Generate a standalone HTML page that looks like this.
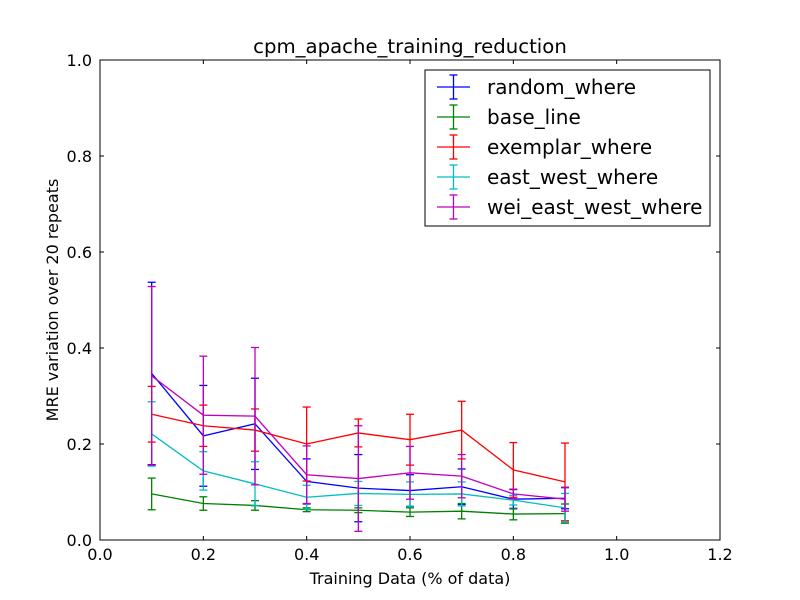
<!DOCTYPE html>
<html><head><meta charset="utf-8"><style>body{margin:0;background:#fff}svg{display:block;font-family:"DejaVu Sans","Liberation Sans",sans-serif}</style></head>
<body>
<svg id="chart" width="800" height="600" viewBox="0 0 800 600" xmlns="http://www.w3.org/2000/svg">
<rect width="800" height="600" fill="#fff"/>
<g id="plot"></g>
</svg>
<script>
const xs=[0.1,0.2,0.3,0.4,0.5,0.6,0.7,0.8,0.9];
const names=["random_where","base_line","exemplar_where","east_west_where","wei_east_west_where"];
const colors=["#0000ff","#008000","#ff0000","#00bfbf","#bf00bf"];
const randomMean=[0.347,0.217,0.242,0.122,0.108,0.103,0.111,0.085,0.087];
const randomErr=[0.19,0.105,0.095,0.047,0.07,0.033,0.037,0.02,0.022];
const baseMean=[0.096,0.076,0.072,0.063,0.062,0.058,0.060,0.054,0.055];
const baseErr=[0.033,0.014,0.01,0.004,0.005,0.009,0.016,0.012,0.02];
const exemplarMean=[0.262,0.238,0.229,0.2,0.223,0.209,0.229,0.146,0.121];
const exemplarErr=[0.058,0.043,0.044,0.077,0.029,0.053,0.06,0.057,0.081];
const ewMean=[0.221,0.144,0.117,0.089,0.097,0.095,0.096,0.083,0.067];
const ewErr=[0.067,0.04,0.046,0.025,0.025,0.026,0.025,0.01,0.03];
const weiMean=[0.342,0.26,0.258,0.136,0.128,0.14,0.133,0.096,0.085];
const weiErr=[0.186,0.123,0.143,0.06,0.11,0.055,0.045,0.01,0.025];
const xTicks=["0.0","0.2","0.4","0.6","0.8","1.0","1.2"];
const yTicks=["0.0","0.2","0.4","0.6","0.8","1.0"];
const means=[randomMean,baseMean,exemplarMean,ewMean,weiMean];
const errs=[randomErr,baseErr,exemplarErr,ewErr,weiErr];
const L=100,R=720,T=60,B=540;
const X=v=>L+(v/1.2)*(R-L), Y=v=>B-v*(B-T);
const NS="http://www.w3.org/2000/svg", g=document.getElementById('plot');
function mk(t,a,p){const e=document.createElementNS(NS,t);for(const k in a)e.setAttribute(k,a[k]);(p||g).appendChild(e);return e;}
means.forEach((m,s)=>{
 const sg=mk('g',{});
 
 
 mk('polyline',{points:xs.map((x,i)=>X(x)+','+Y(m[i])).join(' '),fill:'none',stroke:colors[s],'stroke-width':1.3},sg);
 xs.forEach((x,i)=>{
  const eb=mk('g',{stroke:colors[s],'stroke-width':1.3},sg);
  
  
  const cx=X(x),y1=Y(m[i]+errs[s][i]),y2=Y(m[i]-errs[s][i]);
  mk('line',{x1:cx,x2:cx,y1:y1,y2:y2},eb);
  mk('line',{x1:cx-4,x2:cx+4,y1:y1,y2:y1},eb);
  mk('line',{x1:cx-4,x2:cx+4,y1:y2,y2:y2},eb);
 });
});
mk('rect',{x:L,y:T,width:R-L,height:B-T,fill:'none',stroke:'#000','stroke-width':1});
xTicks.forEach((t,i)=>{const v=i*0.2,x=X(v);
 mk('line',{x1:x,x2:x,y1:B,y2:B-4,stroke:'#000'});mk('line',{x1:x,x2:x,y1:T,y2:T+4,stroke:'#000'});
 const e=mk('text',{x:x,y:B+20,'text-anchor':'middle','font-size':16});e.textContent=t;
 });
yTicks.forEach((t,i)=>{const v=i*0.2,y=Y(v);
 mk('line',{x1:L,x2:L+4,y1:y,y2:y,stroke:'#000'});mk('line',{x1:R,x2:R-4,y1:y,y2:y,stroke:'#000'});
 const e=mk('text',{x:L-8,y:y+6,'text-anchor':'end','font-size':16});e.textContent=t;
 });
let e=mk('text',{x:410,y:53,'text-anchor':'middle','font-size':19.7});e.textContent='cpm_apache_training_reduction';

e=mk('text',{x:410,y:584,'text-anchor':'middle','font-size':16});e.textContent='Training Data (% of data)';

e=mk('text',{x:58,y:300,'text-anchor':'middle','font-size':16,transform:'rotate(-90 58 300)'});e.textContent='MRE variation over 20 repeats';

const lg=mk('g',{});

mk('rect',{x:425,y:70,width:285,height:156,fill:'#fff',stroke:'#000'},lg);
names.forEach((n,s)=>{const y=87+s*30;
 const en=mk('g',{},lg);
 
 mk('line',{x1:437,x2:470,y1:y,y2:y,stroke:colors[s],'stroke-width':1.3},en);
 mk('line',{x1:453.5,x2:453.5,y1:y-12,y2:y+12,stroke:colors[s],'stroke-width':1.3},en);
 mk('line',{x1:449.5,x2:457.5,y1:y-12,y2:y-12,stroke:colors[s],'stroke-width':1.3},en);
 mk('line',{x1:449.5,x2:457.5,y1:y+12,y2:y+12,stroke:colors[s],'stroke-width':1.3},en);
 const t=mk('text',{x:487,y:y+7,'font-size':20},en);t.textContent=n;});
</script>
</body></html>
